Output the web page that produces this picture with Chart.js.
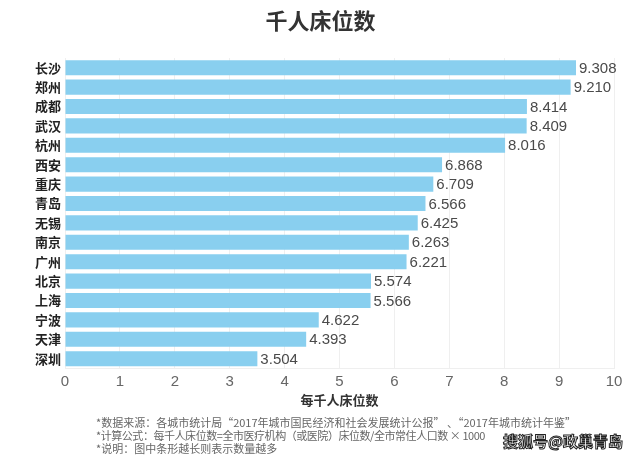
<!DOCTYPE html>
<html>
<head>
<meta charset="utf-8">
<script src="https://cdn.jsdelivr.net/npm/chart.js@4/dist/chart.umd.min.js"></script>
<style>
  html, body { margin: 0; padding: 0; background: #fff; }
  #wrap { position: relative; width: 641px; height: 459px; overflow: hidden; font-family: "Noto Sans CJK SC", "Noto Sans", sans-serif; }
  #c { position: absolute; left: 0; top: 0; }
  .title { position: absolute; left: 0; width: 641px; top: 3px; text-align: center; font-size: 22px; font-weight: bold; color: #333; }
  .notes { position: absolute; left: 96px; top: 416px; font-size: 11px; line-height: 13px; color: #666; white-space: nowrap; }
  .notes .l2 { letter-spacing: -0.45px; }
  .wm { position: absolute; left: 503px; top: 431px; font-size: 15px; line-height: 20px; font-weight: bold; color: #fff; -webkit-text-stroke: 1px #222; white-space: nowrap; }
</style>
</head>
<body>
<div id="wrap">
  <canvas id="c" width="641" height="459"></canvas>
  <div class="title">千人床位数</div>
  <div class="notes">
    <div>*数据来源：各城市统计局“2017年城市国民经济和社会发展统计公报” 、“2017年城市统计年鉴”</div>
    <div class="l2">*计算公式：每千人床位数=全市医疗机构（或医院）床位数/全市常住人口数 × 1000</div>
    <div>*说明：图中条形越长则表示数量越多</div>
  </div>
  <div class="wm">搜狐号@政巢青岛</div>
</div>
<script>
const cities = ["长沙","郑州","成都","武汉","杭州","西安","重庆","青岛","无锡","南京","广州","北京","上海","宁波","天津","深圳"];
const bedsPerThousand = [9.308, 9.210, 8.414, 8.409, 8.016, 6.868, 6.709, 6.566, 6.425, 6.263, 6.221, 5.574, 5.566, 4.622, 4.393, 3.504];
const xTickMax = 10;
const xAxisTitle = "每千人床位数";

const valueLabels = {
  id: 'valueLabels',
  afterDatasetsDraw(chart) {
    const ctx = chart.ctx;
    const meta = chart.getDatasetMeta(0);
    ctx.save();
    ctx.font = '15px "Liberation Sans", Arial, sans-serif';
    ctx.fillStyle = '#4a4a4a';
    ctx.textAlign = 'left';
    ctx.textBaseline = 'middle';
    meta.data.forEach((bar, i) => {
      ctx.fillText(bedsPerThousand[i].toFixed(3), bar.x + 3, bar.y + 1);
    });
    ctx.restore();
  }
};

new Chart(document.getElementById('c'), {
  type: 'bar',
  data: {
    labels: cities,
    datasets: [{
      data: bedsPerThousand,
      backgroundColor: '#89cfef',
      borderWidth: 0,
      barPercentage: 0.78,
      categoryPercentage: 1.0
    }]
  },
  options: {
    indexAxis: 'y',
    responsive: false,
    animation: false,
    layout: { padding: { top: 58, right: 27, bottom: 51, left: 0 } },
    plugins: { legend: { display: false }, tooltip: { enabled: false }, title: { display: false } },
    scales: {
      x: {
        min: 0, max: xTickMax,
        ticks: { stepSize: 1, color: '#666', padding: 4, font: { size: 15, family: '"Liberation Sans", Arial, sans-serif' } },
        grid: { color: '#efefef', drawTicks: false },
        border: { display: true, color: '#efefef' },
        title: { display: true, text: xAxisTitle, color: '#333', font: { size: 13, weight: 'bold', family: '"Noto Sans CJK SC", sans-serif' }, padding: { top: -2, bottom: 0 } }
      },
      y: {
        ticks: { color: '#222', padding: 4, font: { size: 13, weight: 'bold', family: '"Noto Sans CJK SC", sans-serif' } },
        grid: { display: false, drawTicks: false },
        border: { display: false },
        afterFit(scale) { scale.width = 65; }
      }
    }
  },
  plugins: [valueLabels]
});
</script>
</body>
</html>
